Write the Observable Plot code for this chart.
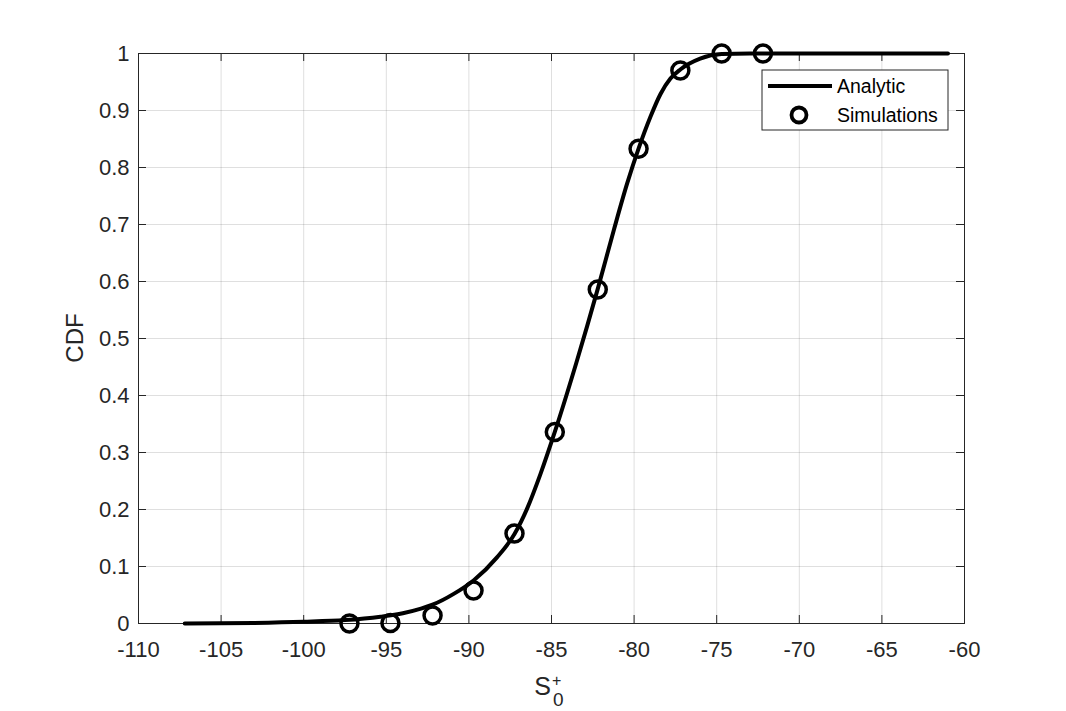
<!DOCTYPE html>
<html>
<head>
<meta charset="utf-8">
<script src="https://cdn.jsdelivr.net/npm/d3@7"></script>
<script src="https://cdn.jsdelivr.net/npm/@observablehq/plot@0.6"></script>
<style>
  html, body { margin: 0; padding: 0; background: #fff; }
  #chart { position: relative; width: 1066px; height: 711px; }
</style>
</head>
<body>
<div id="chart"></div>
<script>
// ---- data ----
const xTicks = [-110, -105, -100, -95, -90, -85, -80, -75, -70, -65, -60];
const yTicks = [0, 0.1, 0.2, 0.3, 0.4, 0.5, 0.6, 0.7, 0.8, 0.9, 1];

// Analytic curve
const analyticX = [-107.2, -103, -100, -97.5, -95.35, -94, -92.9, -92.2, -90.92, -89.7, -88.3, -87.24, -86.47, -85.67, -84.8, -83.5, -82.2, -81.23, -80.42, -79.72, -79.01, -78.4, -77.8, -77.2, -76, -74.7, -73, -61];
const analyticY = [0.000, 0.001, 0.003, 0.006, 0.012, 0.018, 0.026, 0.033, 0.052, 0.076, 0.116, 0.157, 0.202, 0.262, 0.336, 0.457, 0.587, 0.690, 0.772, 0.834, 0.889, 0.929, 0.956, 0.972, 0.991, 0.999, 1.0, 1.0];

// Simulation points
const simX = [-97.23, -94.75, -92.2, -89.72, -87.24, -84.8, -82.2, -79.73, -77.2, -74.7, -72.2];
const simY = [0.000, 0.001, 0.014, 0.058, 0.158, 0.336, 0.586, 0.833, 0.970, 1.0, 1.0];

const seriesNames = ["Analytic", "Simulations"];
const xLabel = {base: "S", sub: "0", sup: "+"};
const yLabel = "CDF";

const analytic = analyticX.map((x, i) => ({x, y: analyticY[i]}));
const sims = simX.map((x, i) => ({x, y: simY[i]}));

const W = 1066, H = 711;
const mL = 138, mR = 102, mT = 53, mB = 88;
const innerW = W - mL - mR, innerH = H - mT - mB;
const tickLen = 8;
const axisColor = "#262626";
const fam = "'Liberation Sans', Arial, Helvetica, sans-serif";

const plot = Plot.plot({
  width: W, height: H,
  marginLeft: mL, marginRight: mR, marginTop: mT, marginBottom: mB,
  x: {domain: [-110, -60]},
  y: {domain: [0, 1]},
  style: {fontFamily: fam, fontSize: "22px", color: axisColor, background: "#fff"},
  marks: [
    Plot.gridX(xTicks, {stroke: "#262626", strokeOpacity: 0.15, strokeWidth: 1}),
    Plot.gridY(yTicks, {stroke: "#262626", strokeOpacity: 0.15, strokeWidth: 1}),
    // inward ticks on all four sides
    Plot.tickX(xTicks, {x: d => d, insetTop: innerH - tickLen, stroke: axisColor}),
    Plot.tickX(xTicks, {x: d => d, insetBottom: innerH - tickLen, stroke: axisColor}),
    Plot.tickY(yTicks, {y: d => d, insetRight: innerW - tickLen, stroke: axisColor}),
    Plot.tickY(yTicks, {y: d => d, insetLeft: innerW - tickLen, stroke: axisColor}),
    Plot.frame({stroke: axisColor, strokeWidth: 1}),
    Plot.axisX({ticks: xTicks, tickSize: 0, tickPadding: 18, label: null, tickFormat: d => String(d), fontSize: 22, fill: axisColor}),
    Plot.axisY({ticks: yTicks, tickSize: 0, tickPadding: 9, label: null, tickFormat: d => String(d), fontSize: 22, fill: axisColor}),
    Plot.line(analytic, {x: "x", y: "y", stroke: "#000", strokeWidth: 4, curve: "monotone-x"}),
    Plot.dot(sims, {x: "x", y: "y", r: 8.5, stroke: "#000", strokeWidth: 3.5, fill: "none"})
  ]
});

document.getElementById("chart").appendChild(plot);

const svg = d3.select(plot);

// y label
svg.append("text")
  .attr("transform", `translate(${mL - 55},${mT + innerH / 2}) rotate(-90)`)
  .attr("text-anchor", "middle")
  .attr("font-family", fam)
  .attr("font-size", 24)
  .attr("fill", axisColor)
  .text(yLabel);

// x label with stacked sub/superscript
const cx = mL + innerW / 2;
const xl = svg.append("g").attr("font-family", fam).attr("fill", axisColor);
xl.append("text").attr("x", cx).attr("y", 695).attr("text-anchor", "end").attr("font-size", 25).text(xLabel.base);
xl.append("text").attr("x", cx + 1).attr("y", 686).attr("text-anchor", "start").attr("font-size", 16).text(xLabel.sup);
xl.append("text").attr("x", cx + 2).attr("y", 706).attr("text-anchor", "start").attr("font-size", 19).text(xLabel.sub);

// legend (top-right inside the axes)
const lx = 762, ly = 70, lw = 186, lh = 60;
const lg = svg.append("g").attr("font-family", fam);
lg.append("rect").attr("x", lx).attr("y", ly).attr("width", lw).attr("height", lh)
  .attr("fill", "#fff").attr("stroke", axisColor).attr("stroke-width", 1);
lg.append("line").attr("x1", lx + 6).attr("x2", lx + 70).attr("y1", ly + 16).attr("y2", ly + 16)
  .attr("stroke", "#000").attr("stroke-width", 4);
lg.append("text").attr("x", lx + 75).attr("y", ly + 16).attr("dy", "0.35em").attr("text-anchor", "start")
  .attr("font-size", 19.5).attr("fill", "#000").text(seriesNames[0]);
lg.append("circle").attr("cx", lx + 37).attr("cy", ly + 45).attr("r", 7.5)
  .attr("fill", "none").attr("stroke", "#000").attr("stroke-width", 3.8);
lg.append("text").attr("x", lx + 75).attr("y", ly + 45).attr("dy", "0.35em").attr("text-anchor", "start")
  .attr("font-size", 19.5).attr("fill", "#000").text(seriesNames[1]);
</script>
</body>
</html>
